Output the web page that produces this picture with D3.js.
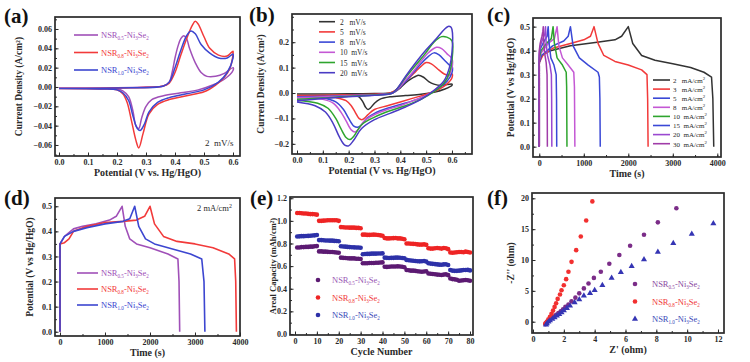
<!DOCTYPE html>
<html>
<head>
<meta charset="utf-8">
<script src="https://cdn.jsdelivr.net/npm/d3@7"></script>
<style>
  body { margin: 0; background: #fff; }
  svg { display: block; font-family: "Liberation Serif", "DejaVu Serif", serif; }
</style>
</head>
<body>
<svg id="fig" width="750" height="362"></svg>
<script>
// ---- (a) CV of three samples at 2 mV/s, [V, A/cm2]
const cvA05 = [[0,-0.001],[0.1,-0.001],[0.2,-0.0008],[0.3,0],[0.36,0.001],[0.38,0.005],[0.39,0.015],[0.40,0.03],[0.41,0.042],[0.42,0.05],[0.43,0.053],[0.44,0.05],[0.45,0.04],[0.47,0.025],[0.49,0.015],[0.51,0.011],[0.54,0.011],[0.57,0.014],[0.6,0.02],
  [0.6,0.017],[0.57,0.008],[0.53,0.002],[0.48,-0.003],[0.42,-0.006],[0.36,-0.009],[0.32,-0.013],[0.30,-0.02],[0.285,-0.032],[0.275,-0.043],[0.265,-0.04],[0.255,-0.025],[0.24,-0.01],[0.22,-0.004],[0.2,-0.002],[0.1,-0.0012],[0,-0.0012]];
const cvA08 = [[0,-0.0015],[0.2,-0.001],[0.36,0.001],[0.38,0.004],[0.4,0.015],[0.42,0.033],[0.44,0.05],[0.46,0.064],[0.47,0.068],[0.48,0.065],[0.5,0.052],[0.52,0.04],[0.55,0.033],[0.58,0.032],[0.6,0.037],
  [0.6,0.034],[0.59,0.02],[0.57,0.01],[0.54,0.002],[0.5,-0.005],[0.44,-0.009],[0.38,-0.013],[0.34,-0.018],[0.31,-0.028],[0.29,-0.048],[0.275,-0.063],[0.265,-0.055],[0.25,-0.035],[0.235,-0.016],[0.22,-0.007],[0.2,-0.003],[0.15,-0.002],[0,-0.0015]];
const cvA10 = [[0,-0.0015],[0.2,-0.001],[0.36,0.001],[0.38,0.005],[0.4,0.02],[0.42,0.038],[0.44,0.053],[0.455,0.058],[0.47,0.055],[0.49,0.044],[0.52,0.035],[0.55,0.03],[0.58,0.03],[0.6,0.034],
  [0.6,0.03],[0.58,0.015],[0.55,0.005],[0.5,-0.003],[0.44,-0.007],[0.38,-0.011],[0.34,-0.016],[0.31,-0.026],[0.295,-0.038],[0.28,-0.045],[0.27,-0.043],[0.255,-0.03],[0.24,-0.014],[0.22,-0.006],[0.2,-0.003],[0.15,-0.002],[0,-0.0015]];

// ---- (b) CV of NSR0.8 at several scan rates
const scanRates = ["2", "5", "8", "10", "15", "20"];
const cvB2 = [[0,-0.004],[0.1,-0.004],[0.2,-0.003],[0.3,-0.002],[0.36,0],[0.38,0.006],[0.40,0.02],[0.42,0.04],[0.44,0.055],[0.46,0.066],[0.47,0.07],[0.49,0.062],[0.51,0.045],[0.53,0.035],[0.56,0.03],[0.6,0.035],
  [0.6,0.03],[0.57,0.015],[0.53,0.003],[0.48,-0.005],[0.42,-0.01],[0.36,-0.015],[0.32,-0.025],[0.3,-0.04],[0.285,-0.058],[0.275,-0.065],[0.265,-0.055],[0.255,-0.035],[0.24,-0.015],[0.22,-0.007],[0.2,-0.004],[0.1,-0.004],[0,-0.004]];
const cvB5 = [[0,-0.01],[0.1,-0.009],[0.2,-0.007],[0.3,-0.005],[0.36,0],[0.38,0.01],[0.40,0.03],[0.43,0.055],[0.46,0.085],[0.48,0.105],[0.50,0.12],[0.52,0.115],[0.55,0.09],[0.57,0.075],[0.59,0.07],[0.6,0.075],
  [0.6,0.06],[0.58,0.035],[0.55,0.015],[0.5,-0.005],[0.45,-0.02],[0.4,-0.035],[0.35,-0.05],[0.3,-0.065],[0.275,-0.085],[0.26,-0.1],[0.25,-0.105],[0.24,-0.1],[0.225,-0.075],[0.21,-0.05],[0.19,-0.03],[0.15,-0.018],[0.1,-0.013],[0,-0.011]];
const cvB8 = [[0,-0.015],[0.1,-0.013],[0.2,-0.01],[0.3,-0.007],[0.37,0],[0.39,0.015],[0.42,0.045],[0.45,0.08],[0.48,0.115],[0.51,0.145],[0.53,0.158],[0.55,0.15],[0.57,0.13],[0.59,0.11],[0.6,0.105],
  [0.6,0.08],[0.58,0.045],[0.55,0.02],[0.5,-0.01],[0.45,-0.03],[0.4,-0.045],[0.35,-0.06],[0.3,-0.08],[0.27,-0.1],[0.25,-0.125],[0.235,-0.135],[0.22,-0.13],[0.2,-0.1],[0.18,-0.065],[0.15,-0.035],[0.1,-0.02],[0,-0.016]];
const cvB10 = [[0,-0.018],[0.1,-0.015],[0.2,-0.011],[0.3,-0.007],[0.37,0],[0.39,0.015],[0.42,0.05],[0.45,0.085],[0.48,0.125],[0.51,0.16],[0.54,0.18],[0.56,0.175],[0.58,0.155],[0.6,0.135],
  [0.6,0.1],[0.58,0.055],[0.55,0.025],[0.5,-0.01],[0.45,-0.03],[0.4,-0.05],[0.35,-0.065],[0.3,-0.085],[0.26,-0.11],[0.24,-0.14],[0.225,-0.153],[0.21,-0.145],[0.19,-0.11],[0.17,-0.075],[0.14,-0.04],[0.1,-0.025],[0,-0.02]];
const cvB15 = [[0,-0.025],[0.1,-0.02],[0.2,-0.013],[0.3,-0.008],[0.37,0],[0.39,0.02],[0.42,0.06],[0.46,0.11],[0.5,0.16],[0.53,0.2],[0.56,0.222],[0.58,0.22],[0.6,0.205],
  [0.6,0.13],[0.59,0.08],[0.57,0.04],[0.53,0.005],[0.48,-0.025],[0.42,-0.05],[0.36,-0.07],[0.3,-0.095],[0.25,-0.125],[0.22,-0.17],[0.205,-0.183],[0.19,-0.175],[0.17,-0.14],[0.15,-0.1],[0.12,-0.06],[0.08,-0.04],[0,-0.028]];
const cvB20 = [[0,-0.03],[0.1,-0.022],[0.2,-0.015],[0.3,-0.009],[0.37,0],[0.39,0.02],[0.42,0.065],[0.46,0.12],[0.5,0.17],[0.54,0.215],[0.57,0.25],[0.585,0.262],[0.595,0.26],[0.6,0.25],
  [0.6,0.16],[0.59,0.1],[0.57,0.05],[0.53,0.01],[0.48,-0.025],[0.42,-0.055],[0.36,-0.08],[0.3,-0.105],[0.25,-0.14],[0.22,-0.185],[0.2,-0.208],[0.185,-0.205],[0.165,-0.175],[0.14,-0.12],[0.11,-0.075],[0.07,-0.05],[0,-0.035]];

// ---- (c) GCD of NSR0.8 at several current densities, [s, V]
const currents = ["2", "3", "5", "8", "10", "15", "20", "30"];
const gcd2 = [[0,0],[0,0.35],[50,0.38],[250,0.4],[700,0.42],[1300,0.435],[1700,0.445],[1850,0.46],[2000,0.5],[2100,0.43],[2300,0.38],[2600,0.36],[3000,0.345],[3400,0.33],[3700,0.31],[3870,0.29],[3900,0.2],[3920,0]];
const gcd3 = [[0,0],[0,0.35],[80,0.38],[300,0.41],[700,0.43],[1000,0.445],[1150,0.46],[1230,0.5],[1320,0.43],[1450,0.38],[1700,0.355],[2000,0.34],[2300,0.32],[2420,0.3],[2435,0.2],[2445,0]];
const gcd5 = [[0,0],[0,0.35],[50,0.38],[300,0.42],[550,0.44],[650,0.46],[700,0.5],[760,0.42],[900,0.37],[1100,0.34],[1320,0.31],[1350,0.29],[1362,0.2],[1370,0]];
const gcd8 = [[0,0],[0,0.36],[40,0.39],[200,0.43],[340,0.45],[400,0.5],[440,0.42],[520,0.37],[650,0.34],[775,0.31],[790,0.25],[800,0]];
const gcd10 = [[0,0],[0,0.37],[40,0.4],[160,0.43],[270,0.45],[310,0.5],[340,0.43],[400,0.37],[520,0.34],[605,0.31],[615,0.25],[622,0]];
const gcd15 = [[0,0],[0,0.38],[30,0.41],[110,0.44],[175,0.46],[200,0.5],[220,0.43],[260,0.37],[330,0.34],[380,0.3],[388,0.2],[392,0]];
const gcd20 = [[0,0],[0,0.39],[25,0.42],[80,0.45],[125,0.47],[140,0.5],[155,0.43],[185,0.38],[240,0.34],[272,0.3],[278,0.2],[282,0]];
const gcd30 = [[0,0],[0,0.4],[20,0.43],[60,0.46],[80,0.48],[90,0.5],[100,0.44],[120,0.39],[155,0.35],[175,0.3],[179,0.2],[182,0]];

// ---- (d) GCD of three samples at 2 mA/cm2
const gcdD05 = [[0,0],[0,0.35],[100,0.38],[300,0.41],[500,0.42],[800,0.43],[1100,0.445],[1250,0.46],[1380,0.5],[1450,0.42],[1550,0.37],[1700,0.35],[2000,0.335],[2400,0.31],[2620,0.29],[2645,0.2],[2660,0]];
const gcdD08 = [[0,0],[0,0.35],[100,0.355],[200,0.37],[300,0.4],[600,0.42],[1000,0.435],[1400,0.44],[1700,0.445],[1880,0.46],[2000,0.5],[2100,0.43],[2300,0.38],[2600,0.36],[3000,0.35],[3400,0.335],[3750,0.31],[3880,0.29],[3905,0.2],[3920,0]];
const gcdD10 = [[0,0],[0,0.35],[100,0.38],[300,0.4],[600,0.415],[1000,0.43],[1400,0.44],[1550,0.45],[1660,0.5],[1750,0.42],[1900,0.37],[2100,0.35],[2500,0.33],[2900,0.31],[3150,0.29],[3200,0.2],[3220,0]];

// ---- (e) rate capability, cycle number vs areal capacity (mAh/cm2)
const cycles = d3.range(1, 81);
const capE05 = [0.765,0.765,0.768,0.768,0.77,0.77,0.772,0.772,0.775,0.777,
  0.73,0.73,0.728,0.728,0.726,0.725,0.725,0.722,0.72,0.718,
  0.675,0.673,0.672,0.67,0.668,0.668,0.668,0.665,0.665,0.663,
  0.625,0.625,0.625,0.627,0.628,0.628,0.63,0.63,0.632,0.633,
  0.595,0.593,0.595,0.597,0.597,0.597,0.598,0.597,0.595,0.59,
  0.565,0.563,0.56,0.56,0.558,0.555,0.553,0.55,0.552,0.555,
  0.535,0.532,0.53,0.528,0.525,0.523,0.522,0.525,0.527,0.52,
  0.49,0.485,0.483,0.48,0.47,0.473,0.475,0.477,0.475,0.47];
const capE08 = [1.07,1.07,1.068,1.065,1.065,1.062,1.06,1.06,1.058,1.055,
  1.0,1.0,1.002,1.003,1.005,1.005,1.006,1.006,1.005,1.0,
  0.945,0.943,0.942,0.942,0.94,0.94,0.94,0.938,0.938,0.935,
  0.878,0.878,0.876,0.876,0.877,0.878,0.877,0.875,0.872,0.868,
  0.848,0.845,0.845,0.846,0.847,0.848,0.845,0.845,0.842,0.838,
  0.8,0.8,0.798,0.797,0.795,0.792,0.79,0.79,0.792,0.788,
  0.758,0.755,0.755,0.758,0.76,0.758,0.755,0.76,0.758,0.75,
  0.72,0.718,0.72,0.722,0.725,0.725,0.723,0.728,0.725,0.72];
const capE10 = [0.862,0.863,0.865,0.865,0.866,0.867,0.868,0.87,0.872,0.875,
  0.83,0.83,0.828,0.827,0.826,0.825,0.825,0.823,0.822,0.82,
  0.775,0.773,0.772,0.77,0.768,0.767,0.766,0.765,0.765,0.763,
  0.705,0.707,0.708,0.708,0.71,0.71,0.71,0.712,0.712,0.713,
  0.675,0.673,0.672,0.673,0.673,0.675,0.675,0.674,0.672,0.67,
  0.655,0.652,0.65,0.648,0.645,0.643,0.642,0.643,0.645,0.64,
  0.625,0.622,0.62,0.618,0.615,0.613,0.612,0.615,0.617,0.61,
  0.565,0.56,0.558,0.558,0.56,0.562,0.565,0.565,0.567,0.562];

// ---- (f) Nyquist plots, [Z', -Z'']
const eisF05 = [[0.8,-0.4],[0.85,-0.2],[0.9,0],[1.0,0.2],[1.1,0.4],[1.2,0.6],[1.35,0.85],[1.5,1.1],[1.65,1.4],[1.8,1.7],[1.95,2.0],[2.1,2.4],[2.3,2.8],[2.5,3.3],[2.75,3.9],[3.0,4.6],[3.3,5.4],[3.6,6.2],[3.95,7.1],[4.4,8.1],[4.95,9.4],[5.6,10.8],[6.3,12.3],[7.2,14.1],[8.1,16.1],[9.3,18.4]];
const eisF08 = [[0.8,-0.3],[0.9,0],[1.0,0.4],[1.1,0.8],[1.2,1.3],[1.3,1.8],[1.4,2.4],[1.5,3.0],[1.6,3.7],[1.75,4.4],[1.85,5.1],[2.0,5.9],[2.15,6.9],[2.3,8.1],[2.5,9.7],[2.8,11.6],[3.1,13.8],[3.45,16.4],[3.85,19.5]];
const eisF10 = [[0.85,-0.5],[0.9,-0.3],[1.0,0],[1.1,0.2],[1.25,0.45],[1.4,0.7],[1.55,0.95],[1.7,1.2],[1.85,1.5],[2.0,1.8],[2.2,2.2],[2.4,2.6],[2.7,3.1],[3.0,3.6],[3.3,4.2],[3.7,4.6],[4.0,5.1],[4.5,5.9],[5.1,7.1],[5.7,8.0],[6.4,9.0],[7.2,10.1],[8.1,11.3],[9.1,12.7],[10.3,14.2],[11.7,15.9]];

// sample sub-labels and tick values
const samples = ["0.5", "0.8", "1.0"];
const ticksCV = [0, 0.1, 0.2, 0.3, 0.4, 0.5, 0.6];
const ticksA_y = [-0.06, -0.04, -0.02, 0, 0.02, 0.04, 0.06];
const ticksB_y = [-0.2, -0.1, 0, 0.1, 0.2];
const ticksTime = [0, 1000, 2000, 3000, 4000];
const ticksPot = [0, 0.1, 0.2, 0.3, 0.4, 0.5];
const ticksCycle = [0, 10, 20, 30, 40, 50, 60, 70, 80];
const ticksCap = [0, 0.2, 0.4, 0.6, 0.8, 1.0, 1.2];
const ticksZre = [0, 2, 4, 6, 8, 10, 12];
const ticksZim = [0, 5, 10, 15, 20];

const svg = d3.select('#fig');
const ink = '#2a2a2a';

// builds frame + axes, returns scales and a clipped plot group
function panel(o) {
  const x = d3.scaleLinear().domain(o.xd).range([o.l, o.r]);
  const y = d3.scaleLinear().domain(o.yd).range([o.b, o.t]);
  const g = svg.append('g');
  const id = 'clip' + o.name;
  g.append('clipPath').attr('id', id).append('rect')
    .attr('x', o.l).attr('y', o.t).attr('width', o.r - o.l).attr('height', o.b - o.t);
  const plot = g.append('g').attr('clip-path', `url(#${id})`);

  // minor ticks (no labels)
  const xMin = g.append('g').attr('transform', `translate(0,${o.b})`)
    .call(d3.axisBottom(x).tickValues(o.xMinor).tickSize(-2));
  const yMin = g.append('g').attr('transform', `translate(${o.l},0)`)
    .call(d3.axisLeft(y).tickValues(o.yMinor).tickSize(-2));
  [xMin, yMin].forEach(a => a.selectAll('text').remove());
  // major ticks
  const xa = g.append('g').attr('transform', `translate(0,${o.b})`)
    .call(d3.axisBottom(x).tickValues(o.xt).tickSize(-3.5).tickPadding(3).tickFormat(o.xf));
  const ya = g.append('g').attr('transform', `translate(${o.l},0)`)
    .call(d3.axisLeft(y).tickValues(o.yt).tickSize(-3.5).tickPadding(3).tickFormat(o.yf));
  [xMin, yMin, xa, ya].forEach(a => {
    a.select('.domain').remove();
    a.selectAll('line').attr('stroke', ink).attr('stroke-width', 1);
    a.selectAll('text').attr('font-family', 'Liberation Serif, serif')
      .attr('font-size', 8).attr('font-weight', 'bold').attr('fill', ink);
  });

  g.append('rect').attr('x', o.l).attr('y', o.t)
    .attr('width', o.r - o.l).attr('height', o.b - o.t)
    .attr('fill', 'none').attr('stroke', ink).attr('stroke-width', 1.7);

  g.append('text').attr('x', (o.l + o.r) / 2).attr('y', o.b + 20)
    .attr('text-anchor', 'middle').attr('font-size', 10).attr('font-weight', 'bold')
    .attr('fill', ink).text(o.xl);
  g.append('text').attr('transform', `translate(${o.ylx},${(o.t + o.b) / 2}) rotate(-90)`)
    .attr('text-anchor', 'middle').attr('font-size', o.yfs || 9.5).attr('font-weight', 'bold')
    .attr('fill', ink).text(o.yl);

  svg.append('text').attr('x', o.px).attr('y', o.py)
    .attr('font-size', 21).attr('font-weight', 'bold').attr('fill', '#111').text(o.tag);
  return { x, y, g, plot };
}

// "NSR_{s}-Ni_3Se_2" with subscripts
function nsrText(sel, s) {
  sel.append('tspan').text('NSR');
  sel.append('tspan').attr('dy', 2).attr('font-size', '0.6em').text(s);
  sel.append('tspan').attr('dy', -2).text('-Ni');
  sel.append('tspan').attr('dy', 2).attr('font-size', '0.6em').text('3');
  sel.append('tspan').attr('dy', -2).text('Se');
  sel.append('tspan').attr('dy', 2).attr('font-size', '0.6em').text('2');
}

const fmt1 = d3.format('.1f');
const fmt2 = d3.format('.2f');
const smooth = (p) => d3.line().x(d => p.x(d[0])).y(d => p.y(d[1])).curve(d3.curveCatmullRom.alpha(0.5));
const straight = (p) => d3.line().x(d => p.x(d[0])).y(d => p.y(d[1]));

// ---------------- (a)
const colA = ['#a050b8', '#f23a3a', '#3c46d0'];
const pa = panel({ name: 'a', l: 55, r: 240, t: 17, b: 156, xd: [-0.0138, 0.6241], yd: [-0.0714, 0.0724],
  xt: ticksCV, yt: ticksA_y, xf: fmt1, yf: fmt2,
  xMinor: d3.range(-0.0001, 0.62, 0.05), yMinor: d3.range(-0.07, 0.071, 0.01),
  xl: 'Potential (V vs. Hg/HgO)', yl: 'Current Density (A/cm²)', ylx: 22, tag: '(a)', px: 4, py: 23 });
[cvA05, cvA08, cvA10].forEach((c, i) => {
  pa.plot.append('path').attr('d', smooth(pa)(c)).attr('fill', 'none')
    .attr('stroke', colA[i]).attr('stroke-width', 1.5);
});
samples.forEach((s, i) => {
  const yy = 35 + i * 17.5;
  pa.g.append('line').attr('x1', 74).attr('x2', 98).attr('y1', yy).attr('y2', yy)
    .attr('stroke', colA[i]).attr('stroke-width', 1.6);
  nsrText(pa.g.append('text').attr('x', 101).attr('y', yy + 3).attr('font-size', 8.5).attr('fill', colA[i]), s);
});
pa.g.append('text').attr('x', 205).attr('y', 146).attr('font-size', 9).attr('fill', ink)
  .attr('xml:space', 'preserve').text('2  mV/s');

// ---------------- (b)
const colB = ['#333333', '#f23a3a', '#3a48d6', '#c458d4', '#2ea52e', '#4a3cc4'];
const pb = panel({ name: 'b', l: 292, r: 472, t: 14, b: 154, xd: [-0.0194, 0.6775], yd: [-0.240, 0.311],
  xt: ticksCV, yt: ticksB_y, xf: fmt1, yf: fmt1,
  xMinor: d3.range(-0.0001, 0.67, 0.05), yMinor: d3.range(-0.2, 0.31, 0.05),
  xl: 'Potential (V vs. Hg/HgO)', yl: 'Current Density (A/cm²)', ylx: 264, tag: '(b)', px: 249, py: 22 });
[cvB2, cvB5, cvB8, cvB10, cvB15, cvB20].forEach((c, i) => {
  pb.plot.append('path').attr('d', smooth(pb)(c)).attr('fill', 'none')
    .attr('stroke', colB[i]).attr('stroke-width', 1.5);
});
scanRates.forEach((s, i) => {
  const yy = 21.7 + i * 10.2;
  pb.g.append('line').attr('x1', 319).attr('x2', 335).attr('y1', yy).attr('y2', yy)
    .attr('stroke', colB[i]).attr('stroke-width', 1.6);
  pb.g.append('text').attr('x', 340).attr('y', yy + 3).attr('font-size', 7.5).attr('fill', ink)
    .attr('xml:space', 'preserve').text(s.padEnd(3, ' ') + ' mV/s');
});

// ---------------- (c)
const colC = ['#333333', '#f23a3a', '#3a48d6', '#c458d4', '#2ea52e', '#3a48d6', '#9a48d0', '#a03ca8'];
const pc = panel({ name: 'c', l: 533, r: 721, t: 18, b: 157, xd: [-141, 4083], yd: [-0.043, 0.536],
  xt: ticksTime, yt: ticksPot, xf: d3.format('d'), yf: fmt1,
  xMinor: d3.range(0, 4001, 500), yMinor: d3.range(0, 0.53, 0.05),
  xl: 'Time (s)', yl: 'Potential (V vs Hg/HgO)', ylx: 514, tag: '(c)', px: 487, py: 22 });
[gcd2, gcd3, gcd5, gcd8, gcd10, gcd15, gcd20, gcd30].forEach((c, i) => {
  pc.plot.append('path').attr('d', straight(pc)(c))
    .attr('fill', 'none').attr('stroke', colC[i]).attr('stroke-width', 1.5).attr('stroke-linejoin', 'round');
});
currents.forEach((s, i) => {
  const yy = 80 + i * 9.1;
  pc.g.append('line').attr('x1', 653).attr('x2', 670).attr('y1', yy).attr('y2', yy)
    .attr('stroke', colC[i]).attr('stroke-width', 1.6);
  const t = pc.g.append('text').attr('x', 673).attr('y', yy + 2.8).attr('font-size', 7).attr('fill', ink)
    .attr('xml:space', 'preserve');
  t.append('tspan').text(s.padEnd(3, ' ') + ' mA/cm');
  t.append('tspan').attr('dy', -3).attr('font-size', '0.7em').text('2');
});

// ---------------- (d)
const pd = panel({ name: 'd', l: 55, r: 240, t: 198, b: 336, xd: [-111, 4000], yd: [-0.017, 0.533],
  xt: ticksTime, yt: ticksPot, xf: d3.format('d'), yf: fmt1,
  xMinor: d3.range(0, 4001, 500), yMinor: d3.range(0, 0.53, 0.05),
  xl: 'Time (s)', yl: 'Potential (V vs Hg/HgO)', ylx: 33, tag: '(d)', px: 4, py: 205 });
[gcdD05, gcdD08, gcdD10].forEach((c, i) => {
  pd.plot.append('path').attr('d', straight(pd)(c))
    .attr('fill', 'none').attr('stroke', colA[i]).attr('stroke-width', 1.6).attr('stroke-linejoin', 'round');
});
samples.forEach((s, i) => {
  const yy = 273 + i * 16;
  pd.g.append('line').attr('x1', 77).attr('x2', 98).attr('y1', yy).attr('y2', yy)
    .attr('stroke', colA[i]).attr('stroke-width', 1.6);
  nsrText(pd.g.append('text').attr('x', 101).attr('y', yy + 3).attr('font-size', 8.5).attr('fill', colA[i]), s);
});
const dNote = pd.g.append('text').attr('x', 197).attr('y', 211).attr('font-size', 8.5).attr('fill', ink);
dNote.append('tspan').text('2 mA/cm');
dNote.append('tspan').attr('dy', -3).attr('font-size', '0.7em').text('2');

// ---------------- (e)
const colE = ['#5c1a72', '#ee2424', '#2d31a8'];
const colEtxt = ['#9a58b4', '#f03a3a', '#3c4ab8'];
const pe = panel({ name: 'e', l: 290, r: 473, t: 197, b: 335, xd: [-2.29, 81.37], yd: [-0.009, 1.211],
  xt: ticksCycle, yt: ticksCap, xf: d3.format('d'), yf: fmt1,
  xMinor: d3.range(0, 81, 5), yMinor: d3.range(0, 1.21, 0.1),
  xl: 'Cycle Number', yl: 'Areal Capacity (mAh/cm²)', ylx: 276, yfs: 8.5, tag: '(e)', px: 250, py: 205 });
[capE05, capE08, capE10].forEach((c, i) => {
  pe.plot.selectAll(null).data(c).join('circle')
    .attr('cx', (d, k) => pe.x(cycles[k])).attr('cy', d => pe.y(d)).attr('r', 2.3)
    .attr('fill', colE[i]);
});
samples.forEach((s, i) => {
  const yy = 280 + i * 17.5;
  pe.g.append('circle').attr('cx', 318).attr('cy', yy).attr('r', 2.3).attr('fill', colE[i]);
  nsrText(pe.g.append('text').attr('x', 332).attr('y', yy + 3).attr('font-size', 8.5).attr('fill', colEtxt[i]), s);
});

// ---------------- (f)
const colF = ['#7b2d88', '#f23030', '#3535b4'];
const colFtxt = ['#8a48a0', '#f03a3a', '#3c4ab8'];
const pf = panel({ name: 'f', l: 532, r: 724, t: 193, b: 333, xd: [-0.065, 12.39], yd: [-1.83, 20.86],
  xt: ticksZre, yt: ticksZim, xf: d3.format('d'), yf: d3.format('d'),
  xMinor: d3.range(0, 12.1, 1), yMinor: d3.range(0, 20.1, 2.5),
  xl: "Z' (ohm)", yl: "-Z'' (ohm)", ylx: 514, tag: '(f)', px: 487, py: 205 });
const tri = d3.symbol().type(d3.symbolTriangle).size(16);
[eisF05, eisF08].forEach((c, i) => {
  pf.plot.selectAll(null).data(c).join('circle')
    .attr('cx', d => pf.x(d[0])).attr('cy', d => pf.y(d[1])).attr('r', 2.3).attr('fill', colF[i]);
});
pf.plot.selectAll(null).data(eisF10).join('path')
  .attr('transform', d => `translate(${pf.x(d[0])},${pf.y(d[1])})`).attr('d', tri).attr('fill', colF[2]);
samples.forEach((s, i) => {
  const yy = 284 + i * 17.5;
  if (i < 2) pf.g.append('circle').attr('cx', 635).attr('cy', yy).attr('r', 2.3).attr('fill', colF[i]);
  else pf.g.append('path').attr('transform', `translate(635,${yy})`).attr('d', tri).attr('fill', colF[i]);
  nsrText(pf.g.append('text').attr('x', 652).attr('y', yy + 3).attr('font-size', 8.5).attr('fill', colFtxt[i]), s);
});
</script>
</body>
</html>
